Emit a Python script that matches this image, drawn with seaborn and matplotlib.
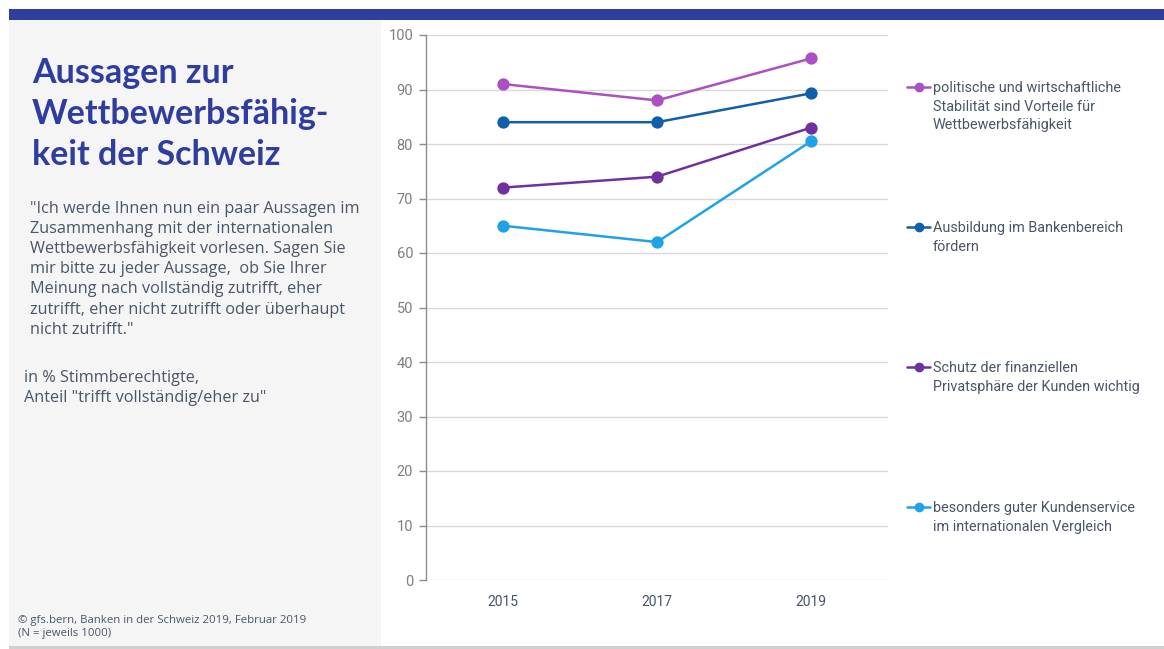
import matplotlib
matplotlib.use("Agg")
import matplotlib.pyplot as plt
from matplotlib.patches import Rectangle
from matplotlib.lines import Line2D
import seaborn as sns
import pandas as pd

# ---- data -------------------------------------------------------------
years = ["2015", "2017", "2019"]

statements = [
    "politische und wirtschaftliche\nStabilität sind Vorteile für\nWettbewerbsfähigkeit",
    "Ausbildung im Bankenbereich\nfördern",
    "Schutz der finanziellen\nPrivatsphäre der Kunden wichtig",
    "besonders guter Kundenservice\nim internationalen Vergleich",
]

stabilitaet = [91, 88, 95.7]
ausbildung = [84, 84, 89.3]
privatsphaere = [72, 74, 83]
kundenservice = [65, 62, 80.5]

series_values = [stabilitaet, ausbildung, privatsphaere, kundenservice]
colors = ["#AB4FC2", "#0F5FAA", "#7030A0", "#1EA2E8"]

y_ticks = list(range(0, 101, 10))

title_lines = ["Aussagen zur", "Wettbewerbsfähig-", "keit der Schweiz"]
question_lines = [
    '"Ich werde Ihnen nun ein paar Aussagen im',
    "Zusammenhang mit der internationalen",
    "Wettbewerbsfähigkeit vorlesen. Sagen Sie",
    "mir bitte zu jeder Aussage,  ob Sie Ihrer",
    "Meinung nach vollständig zutrifft, eher",
    "zutrifft, eher nicht zutrifft oder überhaupt",
    'nicht zutrifft."',
]
basis_lines = ["in % Stimmberechtigte,", 'Anteil "trifft vollständig/eher zu"']
source_lines = ["© gfs.bern, Banken in der Schweiz 2019, Februar 2019", "(N = jeweils 1000)"]

# long-form table for seaborn
records = []
for label, vals in zip(statements, series_values):
    for yr, v in zip(years, vals):
        records.append({"Jahr": yr, "Anteil": v, "Aussage": label})
df = pd.DataFrame(records)

# ---- styling ----------------------------------------------------------
sns.set_theme(style="white")
plt.rcParams["font.family"] = ["Open Sans", "DejaVu Sans"]

W, H = 1164, 649
fig = plt.figure(figsize=(W / 100, H / 100), dpi=100)
fig.patch.set_facecolor("white")


def fx(px):
    return px / W


def fy(py):
    return 1 - py / H


# page decoration: top band, grey side panel, bottom rule
fig.patches.append(Rectangle((fx(9), fy(20)), fx(W - 9), 11 / H, transform=fig.transFigure,
                             facecolor="#303F9F", edgecolor="none", zorder=0))
fig.patches.append(Rectangle((fx(9), fy(646)), fx(381 - 9), (646 - 20) / H, transform=fig.transFigure,
                             facecolor="#F5F5F5", edgecolor="none", zorder=0))
fig.patches.append(Rectangle((fx(9), 0), fx(W - 9), 3 / H, transform=fig.transFigure,
                             facecolor="#D0D0D0", edgecolor="none", zorder=0))

# ---- chart ------------------------------------------------------------
ax = fig.add_axes([fx(426), fy(580), fx(888 - 426), (580 - 35) / H])
ax.set_facecolor("white")

sns.pointplot(
    data=df, x="Jahr", y="Anteil", hue="Aussage", hue_order=statements,
    order=years, palette=colors, markers="o", linestyles="-",
    errorbar=None, legend=False, ax=ax, markersize=7.5, linewidth=1.8,
)

ax.set_ylim(0, 100)
ax.set_xlim(-0.5, len(years) - 0.5)
ax.set_yticks(y_ticks)
ax.set_xlabel("")
ax.set_ylabel("")
ax.yaxis.grid(True, color="#D9D9D9", linewidth=1.0)
ax.xaxis.grid(False)
ax.set_axisbelow(True)
for side in ["top", "right", "bottom"]:
    ax.spines[side].set_visible(False)
ax.spines["left"].set_color("#8C8C8C")
ax.spines["left"].set_linewidth(1.0)
ax.tick_params(axis="y", length=5, width=1, color="#8C8C8C", pad=4.3,
               labelsize=10.5, labelcolor="#7F7F7F", left=True)
ax.tick_params(axis="x", length=0, pad=11, labelsize=10, labelcolor="#44546A")
for lab in ax.get_yticklabels() + ax.get_xticklabels():
    lab.set_family(["Roboto", "DejaVu Sans"])

# ---- legend -----------------------------------------------------------
leg_font = ["Roboto", "DejaVu Sans"]
for i, (label, col) in enumerate(zip(statements, colors)):
    base = 92 + 140 * i
    ymark = base - 5.5
    fig.lines.append(Line2D([fx(907), fx(930)], [fy(ymark), fy(ymark)], transform=fig.transFigure,
                            color=col, linewidth=1.8))
    fig.lines.append(Line2D([fx(918.5)], [fy(ymark)], transform=fig.transFigure,
                            marker="o", markersize=6, color=col, linestyle="none"))
    for j, line in enumerate(label.split("\n")):
        fig.text(fx(933), fy(base + 18.7 * j), line, ha="left", va="baseline",
                 fontsize=10.4, color="#4A5568", family=leg_font)

# ---- text panel -------------------------------------------------------
for j, line in enumerate(title_lines):
    fig.text(fx(32), fy(83 + 41 * j), line, ha="left", va="baseline",
             fontsize=24.5, fontweight="bold", color="#2E3D9E", family=["Lato", "DejaVu Sans"])

for j, line in enumerate(question_lines):
    fig.text(fx(30), fy(213 + 20.1 * j), line, ha="left", va="baseline",
             fontsize=11.7, color="#4A5568")

for j, line in enumerate(basis_lines):
    fig.text(fx(24), fy(381.5 + 20.5 * j), line, ha="left", va="baseline",
             fontsize=11.7, color="#4A5568")

for j, line in enumerate(source_lines):
    fig.text(fx(18), fy(623 + 13 * j), line, ha="left", va="baseline",
             fontsize=8.2, color="#4A5568")

fig.savefig("out.png", dpi=100, facecolor="white")
